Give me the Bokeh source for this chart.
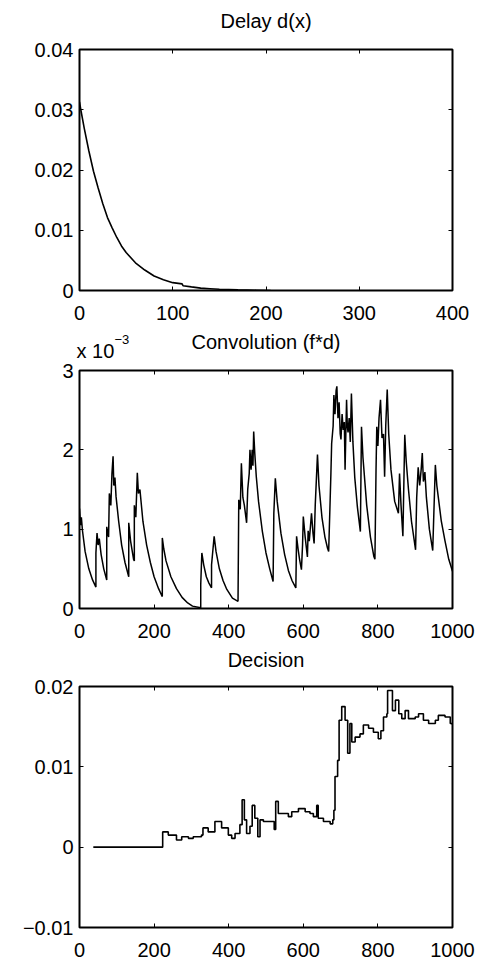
from bokeh.plotting import figure
from bokeh.models import Range1d, LinearAxis, FixedTicker, Label, CustomLabelingPolicy
from bokeh.layouts import column
from bokeh.embed import file_html
from bokeh.resources import INLINE

FONT = "Liberation Sans"

# ---- Panel 1: Delay d(x)
delay_x = [0, 2, 5, 10, 15, 20, 25, 30, 35, 40, 45, 50, 60, 70, 80, 90, 100, 110, 111,
           120, 130, 140, 150, 170, 190, 205]
delay_y = [0.0313, 0.0295, 0.0270, 0.0232, 0.0198, 0.0170, 0.0144, 0.0121, 0.0104, 0.0088,
           0.0074, 0.0063, 0.0046, 0.0034, 0.0024, 0.0018, 0.0013, 0.0011, 0.0008,
           0.0006, 0.0004, 0.0003, 0.0002, 0.0001, 0.00005, 0.0]
delay_xticks = [0, 100, 200, 300, 400]
delay_yticks = [0, 0.01, 0.02, 0.03, 0.04]
delay_ylabels = ["0", "0.01", "0.02", "0.03", "0.04"]

# ---- Panel 2: Convolution (f*d), values in units of 1e-3
conv_x = [0, 3, 5, 8, 15, 25, 35, 44, 44, 47, 50, 53, 58, 65, 73, 73, 78, 80, 84, 87, 90, 92, 95,
          98, 105, 113, 122, 132, 132, 137, 145, 147, 147, 151, 155, 158, 162, 170, 180, 190,
          200, 212, 222, 222, 226, 232, 245, 260, 275, 290, 303, 325, 325, 328, 333, 340, 347,
          354, 354, 361, 366, 375, 385, 395, 410, 425, 427, 431, 434, 438, 442, 448, 451, 455,
          457, 460, 463, 465, 467, 470, 474, 480, 490, 500, 510, 519, 521, 525, 530, 540, 550,
          560, 570, 580, 582, 586, 590, 595, 598, 600, 605, 611, 613, 616, 622, 626, 629, 632,
          638, 642, 650, 658, 665, 668, 672, 674, 676, 680, 682, 685, 688, 690, 693, 696, 699,
          701, 704, 707, 710, 712, 714, 716, 718, 720, 723, 726, 729, 733, 738, 745, 753, 756,
          760, 770, 780, 789, 792, 795, 797, 800, 803, 807, 811, 815, 818, 821, 825, 829, 835,
          845, 855, 858, 862, 867, 872, 876, 882, 890, 901, 904, 908, 912, 916, 919, 922, 926,
          930, 938, 947, 950, 954, 958, 962, 970, 980, 990, 1000]
conv_y = [1.26, 1.05, 1.15, 0.98, 0.72, 0.50, 0.36, 0.27, 0.70, 0.95, 0.80, 0.88, 0.68, 0.50,
          0.36, 1.03, 0.90, 1.45, 1.30, 1.70, 1.92, 1.55, 1.65, 1.41, 1.10, 0.80, 0.58, 0.40,
          1.08, 0.85, 0.62, 0.60, 1.30, 1.15, 1.71, 1.45, 1.50, 1.10, 0.80, 0.58, 0.40, 0.25,
          0.15, 0.89, 0.75, 0.60, 0.40, 0.25, 0.14, 0.07, 0.03, 0.01, 0.30, 0.70, 0.55, 0.40,
          0.32, 0.26, 0.55, 0.91, 0.72, 0.50, 0.35, 0.24, 0.13, 0.09, 1.37, 1.25, 1.83, 1.40,
          1.30, 1.08, 1.50, 1.70, 2.00, 1.75, 2.00, 1.80, 2.23, 1.95, 1.66, 1.35, 0.98, 0.70,
          0.50, 0.34, 1.20, 1.64, 1.35, 0.95, 0.68, 0.48, 0.35, 0.26, 0.91, 0.75, 0.62, 0.49,
          0.80, 1.16, 0.90, 0.65, 0.98, 0.85, 1.20, 0.95, 0.82, 1.30, 1.94, 1.55, 1.15, 0.90,
          0.76, 0.72, 1.37, 1.70, 2.08, 2.30, 2.69, 2.45, 2.75, 2.80, 2.40, 2.60, 2.20, 2.13,
          2.45, 2.25, 2.35, 1.75, 2.20, 2.63, 2.30, 2.22, 2.40, 2.10, 2.71, 2.10, 1.65, 1.28,
          0.97, 2.29, 1.90, 1.30, 0.90, 0.66, 0.62, 1.75, 2.29, 2.05, 2.40, 2.63, 2.15, 2.20,
          1.66, 2.30, 2.76, 2.20, 1.75, 1.35, 1.20, 1.70, 1.30, 0.91, 2.19, 1.85, 1.50, 1.10,
          0.74, 1.40, 1.78, 1.55, 1.75, 1.96, 1.60, 1.72, 1.40, 1.00, 0.73, 1.20, 1.81, 1.55,
          1.40, 1.10, 0.85, 0.62, 0.47]
conv_xticks = [0, 200, 400, 600, 800, 1000]
conv_yticks = [0, 1, 2, 3]
conv_ylabels = ["0", "1", "2", "3"]

# ---- Panel 3: Decision
dec_x = [37, 223, 238, 260, 274, 292, 305, 327, 331, 345, 363, 381, 399, 408, 417, 430, 436,
         442, 448, 457, 463, 470, 478, 484, 493, 506, 522, 526, 533, 560, 569, 587, 605, 618,
         627, 636, 640, 654, 672, 679, 682, 685, 692, 696, 703, 712, 719, 725, 730, 739, 752,
         761, 775, 788, 801, 808, 815, 824, 826, 833, 839, 847, 856, 864, 873, 882, 900, 909,
         922, 936, 954, 962, 980, 994, 1000]
dec_y = [0.0, 0.0019, 0.0015, 0.0009, 0.0013, 0.0011, 0.0013, 0.0015, 0.0024, 0.0019, 0.0032,
         0.0024, 0.0015, 0.0011, 0.0017, 0.0028, 0.0059, 0.0034, 0.0017, 0.0026, 0.0052, 0.0036,
         0.0013, 0.0034, 0.0032, 0.0032, 0.0022, 0.0057, 0.0042, 0.0038, 0.0044, 0.0048, 0.0044,
         0.0042, 0.0038, 0.0052, 0.0036, 0.0032, 0.0029, 0.0034, 0.0046, 0.0088, 0.0108, 0.0158,
         0.0175, 0.0158, 0.0117, 0.0154, 0.0131, 0.0137, 0.0141, 0.0152, 0.0148, 0.0143, 0.0135,
         0.0145, 0.0162, 0.0166, 0.0195, 0.0195, 0.0170, 0.0183, 0.0166, 0.0160, 0.0170, 0.0160,
         0.0162, 0.0166, 0.0158, 0.0154, 0.0158, 0.0164, 0.0162, 0.0154, 0.0152]
dec_xticks = [0, 200, 400, 600, 800, 1000]
dec_yticks = [-0.01, 0, 0.01, 0.02]
dec_ylabels = ["\u22120.01", "0", "0.01", "0.02"]

FS = "20px"

HIDE_ALL = """
try {
  for (let i = 0; i < indices.size; i++) { indices.unset(i) }
} catch (e) {}
return indices
"""


def style_axis(ax, ticks, labels=None, show_labels=True):
    ax.ticker = FixedTicker(ticks=ticks)
    ax.axis_line_color = None
    ax.major_tick_in = 4
    ax.major_tick_out = 0
    ax.major_tick_line_color = "black"
    ax.major_tick_line_width = 1
    ax.minor_tick_line_color = None
    ax.major_label_text_font = FONT
    ax.major_label_text_color = "black"
    if labels is not None:
        ax.major_label_overrides = {t: l for t, l in zip(ticks, labels)}
    if show_labels:
        ax.major_label_text_font_size = FS
    else:
        ax.major_label_text_font_size = "0px"
        ax.major_label_standoff = 0
        ax.major_label_policy = CustomLabelingPolicy(code=HIDE_ALL)


def make(title, xr, yr, xticks, yticks, ylabels, top, bottom, fh, title_gap, left_extra=None):
    p = figure(frame_width=373, frame_height=fh, x_range=Range1d(*xr), y_range=Range1d(*yr),
               output_backend="svg", toolbar_location=None,
               min_border_left=79, min_border_right=24, min_border_top=top,
               min_border_bottom=bottom, background_fill_color="white",
               border_fill_color="white")
    p.title.visible = False
    p.xgrid.grid_line_color = None
    p.ygrid.grid_line_color = None
    p.outline_line_color = "black"
    p.outline_line_width = 2
    p.outline_line_alpha = 1
    style_axis(p.xaxis[0], xticks)
    p.xaxis[0].major_label_standoff = 15
    style_axis(p.yaxis[0], yticks, ylabels)
    p.yaxis[0].major_label_standoff = 6
    top_ax = LinearAxis()
    style_axis(top_ax, xticks, show_labels=False)
    p.add_layout(top_ax, "above")
    p.add_layout(Label(x=(xr[0] + xr[1]) / 2, y=yr[1], y_offset=title_gap, text=title,
                       text_font=FONT, text_font_size=FS, text_baseline="middle",
                       text_align="center", text_color="black"), "above")
    right_ax = LinearAxis()
    style_axis(right_ax, yticks, show_labels=False)
    p.add_layout(right_ax, "right")
    if left_extra:
        for lab in left_extra:
            p.add_layout(lab, "left")
    return p


p1 = make("Delay d(x)", (0, 400), (0, 0.04), delay_xticks, delay_yticks, delay_ylabels,
          49, 31, 241, 29)
p1.line(delay_x, delay_y, line_color="black", line_width=1.6)

exp_labels = [
    Label(x=0, y=3, x_offset=-3, y_offset=20, text="x 10", text_font=FONT,
          text_font_size=FS, text_baseline="middle", text_align="left", text_color="black"),
    Label(x=0, y=3, x_offset=35, y_offset=31, text="\u22123", text_font=FONT,
          text_font_size="13px", text_baseline="middle", text_align="left", text_color="black"),
]
p2 = make("Convolution (f*d)", (0, 1000), (0, 3), conv_xticks, conv_yticks, conv_ylabels,
          48, 32, 238, 29, left_extra=exp_labels)
p2.line(conv_x, conv_y, line_color="black", line_width=1.5)

p3 = make("Decision", (0, 1000), (-0.01, 0.02), dec_xticks, dec_yticks, dec_ylabels,
          46, 28, 241, 27)
p3.step(dec_x, dec_y, mode="after", line_color="black", line_width=1.6)

layout = column(p1, p2, p3, spacing=0)
open("out.html", "w").write(file_html(layout, INLINE))
